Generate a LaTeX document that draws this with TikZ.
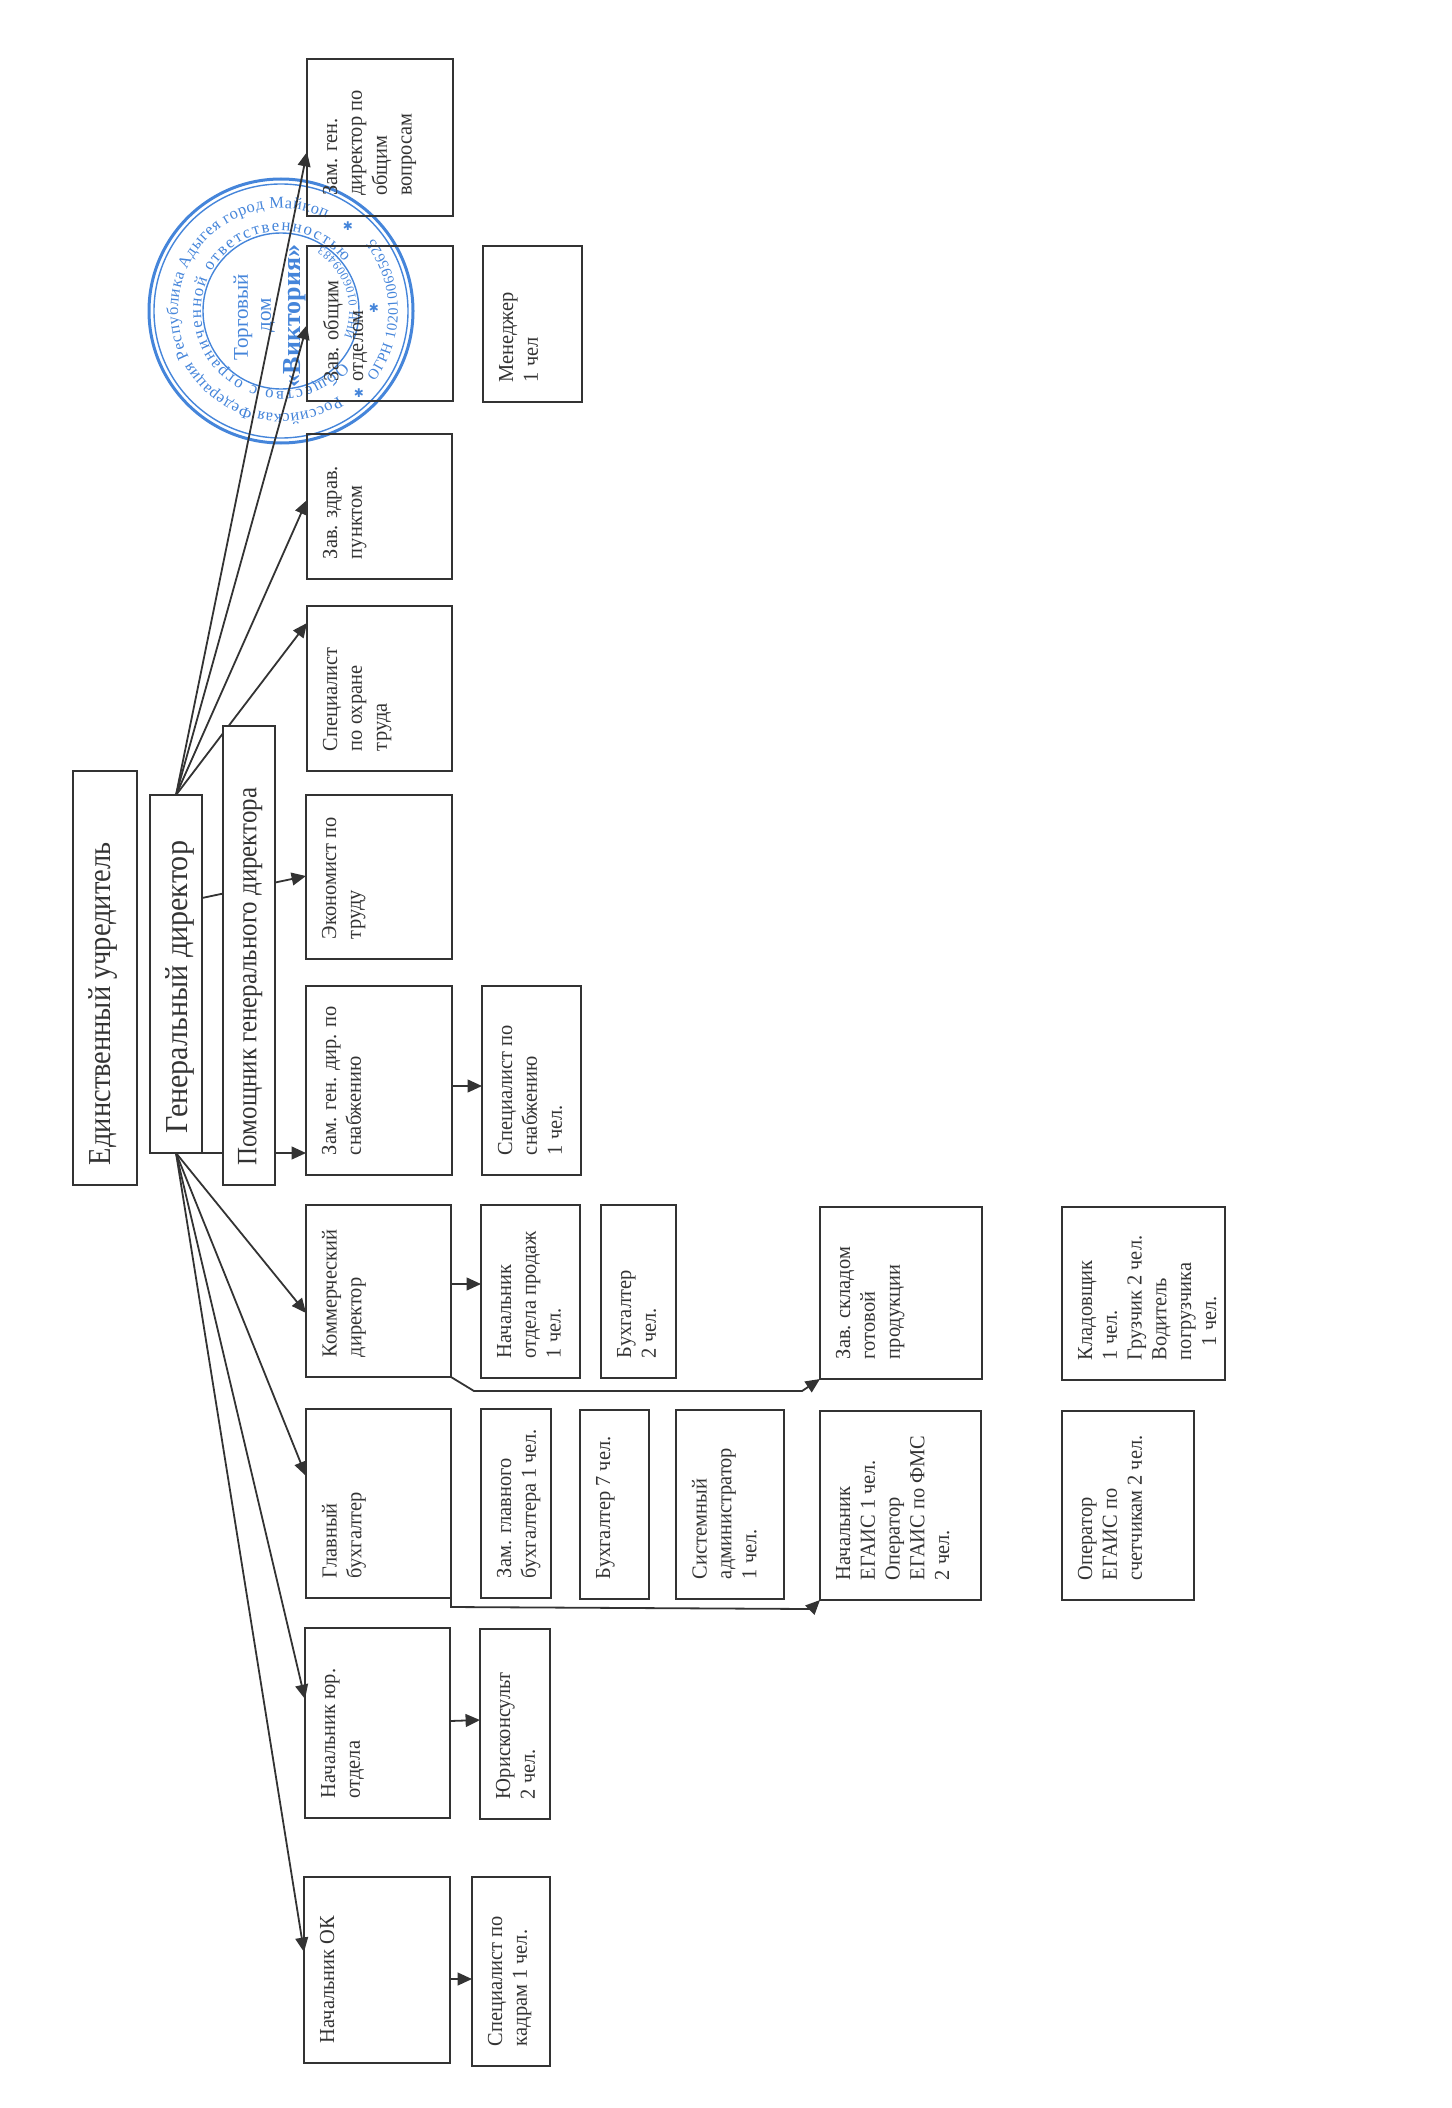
\documentclass[tikz,border=0pt]{standalone}
\usepackage{fontspec}
\usepackage{graphicx}
\setmainfont{Liberation Serif}
\usetikzlibrary{arrows.meta,decorations.text}
\definecolor{inkc}{HTML}{333333}
\definecolor{stampc}{HTML}{4585DA}
\newfontfamily\bodyfam[FakeStretch=0.953]{Liberation Serif}
\newfontfamily\bigfam[FakeStretch=0.89]{Liberation Serif}
\newfontfamily\genfam[FakeStretch=0.94]{Liberation Serif}
\newfontfamily\starfam{DejaVu Sans}
\tikzset{
  box/.style={draw=inkc,line width=1pt,inner sep=0pt,outer sep=0pt,text=inkc},
  arr/.style={draw=inkc,line width=0.9pt,-{Triangle[length=7.2pt,width=6.4pt]}},
  ring/.style={draw=stampc},
  stamptxt/.style={text=stampc,inner sep=0pt},
  starn/.style={text=stampc,inner sep=0pt,font=\starfam\fontsize{6}{6}\selectfont}
}
% \rb[font commands]{name}{x0}{y0}{x1}{y1}{text}
\newcommand{\rb}[7][\bodyfam\fontsize{10.7}{12.4}\selectfont]{%
  \pgfmathsetmacro\rbW{(#5-#3)*0.5}%
  \pgfmathsetmacro\rbH{(#6-#4)*0.5}%
  \node[box,minimum width=\rbW pt,minimum height=\rbH pt] (#2) at ({(#3+#5)/2},{(#4+#6)/2})
    {\rotatebox{90}{\parbox[c][\dimexpr\rbW pt-16pt\relax][t]{\dimexpr\rbH pt-20pt\relax}{#1\raggedright #7\par}}};%
}
\begin{document}
\begin{tikzpicture}[x=0.5pt,y=-0.5pt]
\useasboundingbox (0,0) rectangle (1451,2108);
% stamp
\begin{scope}[shift={(281,311)},x=0.5pt,y=0.5pt]
  \draw[ring,line width=1.5pt] (0,0) circle[radius=66pt];
  \draw[ring,line width=0.7pt] (0,0) circle[radius=63.5pt];
  \draw[ring,line width=0.7pt] (0,0) circle[radius=39pt];
  \path[decorate,decoration={text along path,text align={fit to path},
    text={|\fontsize{8.2}{9}\selectfont\color{stampc}|Российская Федерация Республика Адыгея город Майкоп}}]
    (-56:103) arc[start angle=-56,end angle=-296,radius=51.5pt];
  \path[decorate,decoration={text along path,text align={fit to path},
    text={|\fontsize{8.4}{9}\selectfont\color{stampc}|Общество с ограниченной ответственностью}}]
    (-40:80) arc[start angle=-40,end angle=-322,radius=40pt];
  \path[decorate,decoration={text along path,text align={fit to path},
    text={|\fontsize{7.4}{8}\selectfont\color{stampc}|ОГРН 1020100695625}}]
    (-37:117) arc[start angle=-37,end angle=38,radius=58.5pt];
  \path[decorate,decoration={text along path,text align={fit to path},
    text={|\fontsize{6}{7}\selectfont\color{stampc}|ИНН 0106009483}}]
    (-22:76) arc[start angle=-22,end angle=58,radius=38pt];
  \node[stamptxt,rotate=90,font=\fontsize{10.5}{12}\selectfont] (st1) at (-38,-6) {Торговый};
  \node[stamptxt,rotate=90,font=\fontsize{10.5}{12}\selectfont] (st2) at (-13,-4) {дом};
  \node[stamptxt,rotate=90,font=\bfseries\fontsize{13}{14}\selectfont] (st3) at (14,-5) {«Виктория»};
  \node[starn] (s1) at (93,3) {✱};
  \node[starn] (s2) at (78,-82) {✱};
  \node[starn] (s3) at (67,85) {✱};
\end{scope}
% top level
\rb[\bigfam\fontsize{16}{18}\selectfont]{founder}{73}{771}{137}{1185}{Единственный учредитель}
\rb[\genfam\fontsize{16}{18}\selectfont]{gen}{150}{795}{202}{1153}{Генеральный директор}
% first column
\rb{zamob}{307}{59}{453}{216}{Зам. ген.\\директор по\\общим\\вопросам}
\rb{zavob}{307}{246}{453}{401}{Зав. общим\\отделом}
\rb{zdrav}{307}{434}{452}{579}{Зав. здрав.\\пунктом}
\rb{ohr}{307}{606}{452}{771}{Специалист\\по охране\\труда}
\rb{econ}{306}{795}{452}{959}{Экономист по\\труду}
\rb{zamsn}{306}{986}{452}{1175}{Зам. ген. дир. по\\снабжению}
\rb{kom}{306}{1205}{451}{1377}{Коммерческий\\директор}
\rb{glav}{306}{1409}{451}{1598}{Главный\\бухгалтер}
\rb{yur}{305}{1628}{450}{1818}{Начальник юр.\\отдела}
\rb{ok}{304}{1877}{450}{2063}{Начальник ОК}
% second column
\rb{men}{483}{246}{582}{402}{Менеджер\\1 чел}
\rb{spsn}{482}{986}{581}{1175}{Специалист по\\снабжению\\1 чел.}
\rb{nop}{481}{1205}{580}{1378}{Начальник\\отдела продаж\\1 чел.}
\rb{buh2}{601}{1205}{676}{1378}{Бухгалтер\\2 чел.}
\rb{zamgl}{481}{1409}{551}{1598}{Зам. главного\\бухгалтера 1 чел.}
\rb{buh7}{580}{1410}{649}{1599}{Бухгалтер 7 чел.}
\rb{sys}{676}{1410}{784}{1599}{Системный\\администратор\\1 чел.}
\rb{jur}{480}{1629}{550}{1819}{Юрисконсульт\\2 чел.}
\rb{spk}{472}{1877}{550}{2066}{Специалист по\\кадрам 1 чел.}
% far columns
\rb{sklad}{820}{1207}{982}{1379}{Зав. складом\\готовой\\продукции}
\rb{egais}{820}{1411}{981}{1600}{Начальник\\ЕГАИС 1 чел.\\Оператор\\ЕГАИС по ФМС\\2 чел.}
\rb{klad}{1062}{1207}{1225}{1380}{Кладовщик\\1 чел.\\Грузчик 2 чел.\\Водитель\\погрузчика\\\hspace*{7pt}1 чел.}
\rb{oper}{1062}{1411}{1194}{1600}{Оператор\\ЕГАИС по\\счетчикам 2 чел.}
% connectors from general director
\draw[arr] (gen.north) -- (zamob.west |- 0,152);
\draw[arr] (gen.north) -- (zavob.west |- 0,325);
\draw[arr] (gen.north) -- (zdrav.west |- 0,500);
\draw[arr] (gen.north) -- (ohr.west |- 0,623);
\draw[arr] (gen.east |- 0,898) -- (econ.west |- 0,876);
\draw[arr] (gen.south east) -- (zamsn.west |- gen.south east);
\draw[arr] (gen.south) -- (kom.west |- 0,1313);
\draw[arr] (gen.south) -- (glav.west |- 0,1476);
\draw[arr] (gen.south) -- (yur.west |- 0,1699);
\draw[arr] (gen.south) -- (ok.west |- 0,1952);
% sub connectors
\draw[arr] (zamsn.east |- 0,1086) -- (spsn.west |- 0,1086);
\draw[arr] (kom.east |- 0,1284) -- (nop.west |- 0,1284);
\draw[arr] (yur.east |- 0,1721) -- (jur.west |- 0,1720);
\draw[arr] (ok.east |- 0,1979) -- (spk.west |- 0,1979);
\coordinate (k1) at (474,1391);
\coordinate (k2) at (802,1391);
\draw[arr] (kom.south east) -- (k1) -- (k2) -- (sklad.south west);
\coordinate (g1) at (451,1607);
\coordinate (g2) at (811,1609);
\draw[arr] (glav.south east) -- (g1) -- (g2) -- (egais.south west);
% assistant box sits over the connectors
\node[box,fill=white,minimum width=26pt,minimum height=229.5pt] (pom) at (249,955.5)
  {\rotatebox{90}{\parbox[c][11pt][t]{209.5pt}{\bigfam\fontsize{14}{16}\selectfont Помощник генерального директора\par}}};
\end{tikzpicture}
\end{document}
